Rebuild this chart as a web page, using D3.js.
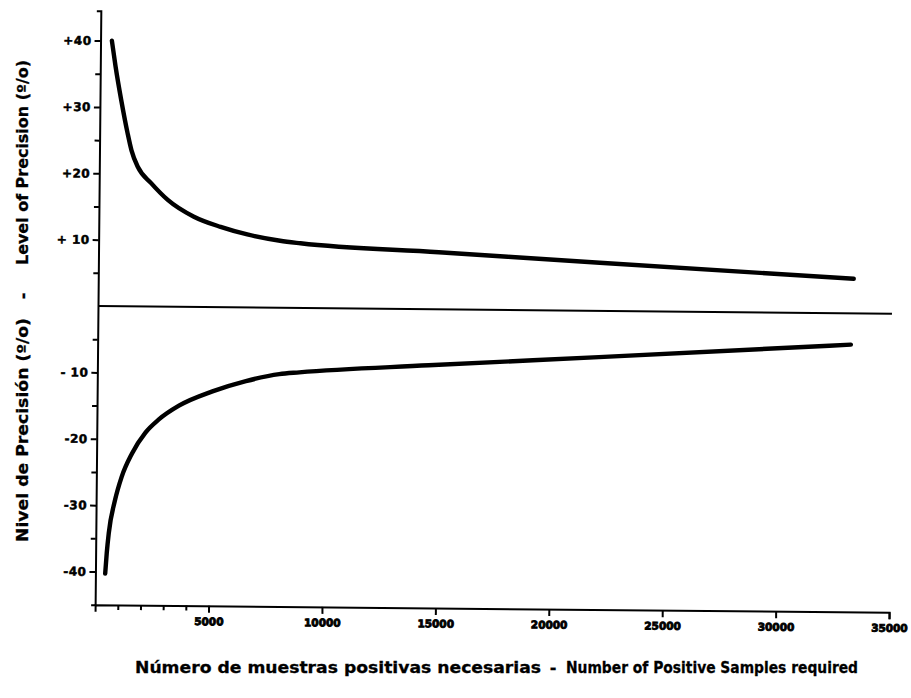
<!DOCTYPE html>
<html>
<head>
<meta charset="utf-8">
<script src="https://cdn.jsdelivr.net/npm/d3@7"></script>
<style>
  body { margin: 0; background: #fff; }
  svg { display: block; }
  .tick text { font-family: "DejaVu Sans", sans-serif; font-weight: bold; fill: #000; stroke: #000; }
  .title { font-family: "DejaVu Sans", sans-serif; font-weight: bold; font-size: 16px; fill: #000; stroke: #000; stroke-width: 0.3px; }
</style>
</head>
<body>
<div id="chart"></div>
<script>
// upper limit of precision (+) and lower limit (-)
const upperX = [500, 674, 940, 1230, 1410, 1700, 2290, 3030, 4190, 5370, 6550, 8000, 8900, 15000, 22100, 33300]
const upperY = [40, 36.1, 31.0, 26.1, 23.5, 21.0, 18.6, 16.1, 13.6, 12.1, 11.0, 10.1, 9.75, 8.6, 7.25, 5.2]
const lowerX = [430, 490, 570, 820, 1115, 1555, 2145, 2730, 3610, 5080, 6550, 8020, 8900, 14600, 22100, 33200]
const lowerY = [-40.3, -37.2, -34.2, -29.4, -25.7, -22.2, -19.0, -17.0, -14.9, -12.7, -11.1, -10.0, -9.7, -8.45, -6.98, -4.72]

// ticks
const xTickValues = [5000, 10000, 15000, 20000, 25000, 30000, 35000]
const xTickLabels = ['5000', '10000', '15000', '20000', '25000', '30000', '35000']
const xMinorTicks = [1000, 2000, 3000, 4000]
const yTickValues = [40, 30, 20, 10, -10, -20, -30, -40]
const yTickLabels = ['+40', '+30', '+20', '+ 10', '- 10', '-20', '-30', '-40']
const yMinorTicks = [35, 25, 15, 5, -5, -15, -25, -35]

const width = 911, height = 698

const svg = d3.select('#chart')
  .append('svg')
  .attr('width', width)
  .attr('height', height)

svg.append('rect').attr('width', width).attr('height', height).attr('fill', '#fff')

const x = d3.scaleLinear().domain([0, 35000]).range([98, 892])
const y = d3.scaleLinear().domain([-45, 44.5]).range([604.7, 10.7])

// the scanned page sits a little crooked
const g = svg.append('g').attr('transform', `rotate(0.55, ${x(0)}, ${y(0)})`)

// X axis
const xAxis = g.append('g')
  .attr('transform', `translate(0, ${y(-45)})`)
  .call(d3.axisBottom(x)
    .tickValues(xTickValues)
    .tickFormat(d => xTickLabels[xTickValues.indexOf(d)])
    .tickSize(7)
    .tickSizeOuter(7)
    .tickPadding(5))
xAxis.selectAll('text').attr('font-size', 10.5).attr('stroke-width', 0.9)
g.append('g')
  .attr('transform', `translate(0, ${y(-45)})`)
  .call(d3.axisBottom(x).tickValues(xMinorTicks).tickSize(5).tickFormat(''))
  .select('.domain').remove()

// Y axis
const yAxis = g.append('g')
  .attr('transform', `translate(${x(0)}, 0)`)
  .call(d3.axisLeft(y)
    .tickValues(yTickValues)
    .tickFormat(d => yTickLabels[yTickValues.indexOf(d)])
    .tickSize(6)
    .tickSizeOuter(4)
    .tickPadding(3))
yAxis.selectAll('text').attr('font-size', 12).attr('letter-spacing', 0.5).attr('stroke-width', 0.5)
g.append('g')
  .attr('transform', `translate(${x(0)}, 0)`)
  .call(d3.axisLeft(y).tickValues(yMinorTicks).tickSize(5).tickFormat(''))
  .select('.domain').remove()

g.selectAll('.domain, .tick line').attr('stroke', '#000').attr('stroke-width', 2)

// zero line
g.append('line')
  .attr('x1', x(0)).attr('x2', x(35000))
  .attr('y1', y(0)).attr('y2', y(0))
  .attr('stroke', '#000')
  .attr('stroke-width', 2)

// curves
const line = d3.line()
  .curve(d3.curveMonotoneX)
  .x(d => x(d[0]))
  .y(d => y(d[1]))

const curves = [
  upperX.map((v, i) => [v, upperY[i]]),
  lowerX.map((v, i) => [v, lowerY[i]])
]
g.selectAll('.curve')
  .data(curves)
  .join('path')
  .attr('class', 'curve')
  .attr('fill', 'none')
  .attr('stroke', '#000')
  .attr('stroke-width', 4.4)
  .attr('stroke-linecap', 'round')
  .attr('d', line)

// axis titles
const yTitle = [
  { text: 'Nivel de Precisión (º/o)', pos: 542, len: 224, anchor: 'start' },
  { text: '-', pos: 296, len: null, anchor: 'middle' },
  { text: 'Level of Precision (º/o)', pos: 265, len: 205, anchor: 'start' }
]
yTitle.forEach(t => {
  const el = svg.append('text')
    .attr('class', 'title')
    .attr('transform', `translate(28, ${t.pos}) rotate(-90)`)
    .attr('text-anchor', t.anchor)
    .text(t.text)
  if (t.len) el.attr('textLength', t.len).attr('lengthAdjust', 'spacingAndGlyphs')
})

const xTitle = [
  { text: 'Número de muestras positivas necesarias', pos: 135, len: 406, anchor: 'start' },
  { text: '-', pos: 553, len: null, anchor: 'middle' },
  { text: 'Number of Positive Samples required', pos: 566, len: 292, anchor: 'start' }
]
xTitle.forEach(t => {
  const el = svg.append('text')
    .attr('class', 'title')
    .attr('x', t.pos)
    .attr('y', 673)
    .attr('text-anchor', t.anchor)
    .text(t.text)
  if (t.len) el.attr('textLength', t.len).attr('lengthAdjust', 'spacingAndGlyphs')
})
</script>
</body>
</html>
